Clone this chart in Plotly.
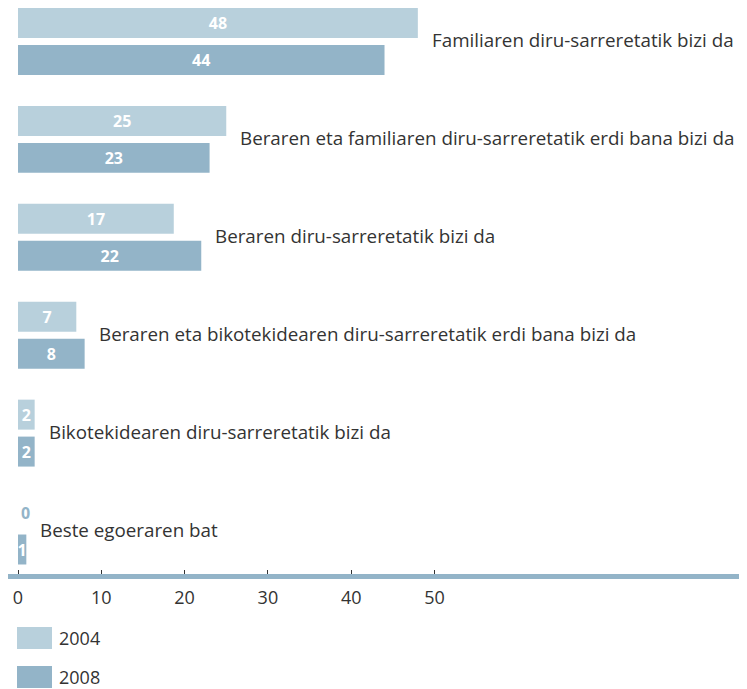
import plotly.graph_objects as go

categories = [
    "Familiaren diru-sarreretatik bizi da",
    "Beraren eta familiaren diru-sarreretatik erdi bana bizi da",
    "Beraren diru-sarreretatik bizi da",
    "Beraren eta bikotekidearen diru-sarreretatik erdi bana bizi da",
    "Bikotekidearen diru-sarreretatik bizi da",
    "Beste egoeraren bat",
]
# bar lengths as drawn in the reference (the 2004 "17" bar is drawn ~18.7 long)
values_2004 = [48, 25, 18.7, 7, 2, 0]
values_2008 = [44, 23, 22, 8, 2, 1]
labels_2004 = ["48", "25", "17", "7", "2", "0"]
labels_2008 = ["44", "23", "22", "8", "2", "1"]
series_names = ["2004", "2008"]
tick_values = [0, 10, 20, 30, 40, 50]

C2004 = "#b8d0dc"
C2008 = "#93b4c8"
TXT = "#333333"
FONT = "Open Sans"

# page body has an 8px margin; visible area of the figure is ~731 px wide
W, H = 731, 681
ML, MT = 0, 0
PLOT_H = 566
MB = H - MT - PLOT_H
PW = W - ML

def tpos(vals):
    return ["outside" if v == 0 else "inside" for v in vals]

fig = go.Figure()
for name, vals, labs, col in [(series_names[0], values_2004, labels_2004, C2004),
                              (series_names[1], values_2008, labels_2008, C2008)]:
    fig.add_trace(go.Bar(
        y=categories, x=vals, orientation="h", name=name,
        marker=dict(color=col, line=dict(width=0)),
        text=labs, textposition=tpos(vals),
        insidetextanchor="middle",
        insidetextfont=dict(color="white", size=16, family=FONT, weight="bold"),
        outsidetextfont=dict(color=C2008, size=16, family=FONT, weight="bold"),
        cliponaxis=False, showlegend=False, hoverinfo="skip",
    ))

# category labels to the right of the longer bar
for cat, a, b in zip(categories, values_2004, values_2008):
    fig.add_annotation(x=max(a, b), y=cat, xref="x", yref="y", text=cat,
                       showarrow=False, xanchor="left", yanchor="middle", xshift=12, yshift=1,
                       font=dict(size=18.8, color=TXT, family=FONT))

# legend (drawn manually)
def py(p):
    return (PLOT_H - p) / PLOT_H
def px(q):
    return (q - ML) / PW

for i, (name, col) in enumerate(zip(series_names, [C2004, C2008])):
    top = 619 + i * 39
    fig.add_shape(type="rect", xref="paper", yref="paper",
                  x0=px(9), x1=px(44), y0=py(top + 22), y1=py(top),
                  fillcolor=col, line=dict(width=0))
    fig.add_annotation(xref="paper", yref="paper", x=px(49), y=py(top + 11),
                       text=name, showarrow=False, xanchor="left", yanchor="middle",
                       font=dict(size=18, color=TXT, family=FONT))

pxu = 8.33
x_left = -10 / pxu
x_right = x_left + PW / pxu

fig.update_layout(
    width=W, height=H, margin=dict(l=ML, r=0, t=MT, b=MB),
    paper_bgcolor="white", plot_bgcolor="white",
    barmode="group", bargap=0.245, bargroupgap=0.189,
    uniformtext=dict(minsize=16, mode="show"),
    xaxis=dict(range=[x_left, x_right], tickvals=tick_values, showgrid=False, zeroline=False,
               showline=True, linecolor=C2008, linewidth=5,
               ticks="inside", ticklen=4, tickcolor=TXT, tickwidth=1,
               ticklabelstandoff=3,
               tickfont=dict(size=18, color=TXT, family=FONT), fixedrange=True),
    yaxis=dict(range=[5.439, -0.342], showticklabels=False, showgrid=False, zeroline=False,
               showline=False, ticks="", fixedrange=True),
    showlegend=False,
)

fig.write_html("out.html")
